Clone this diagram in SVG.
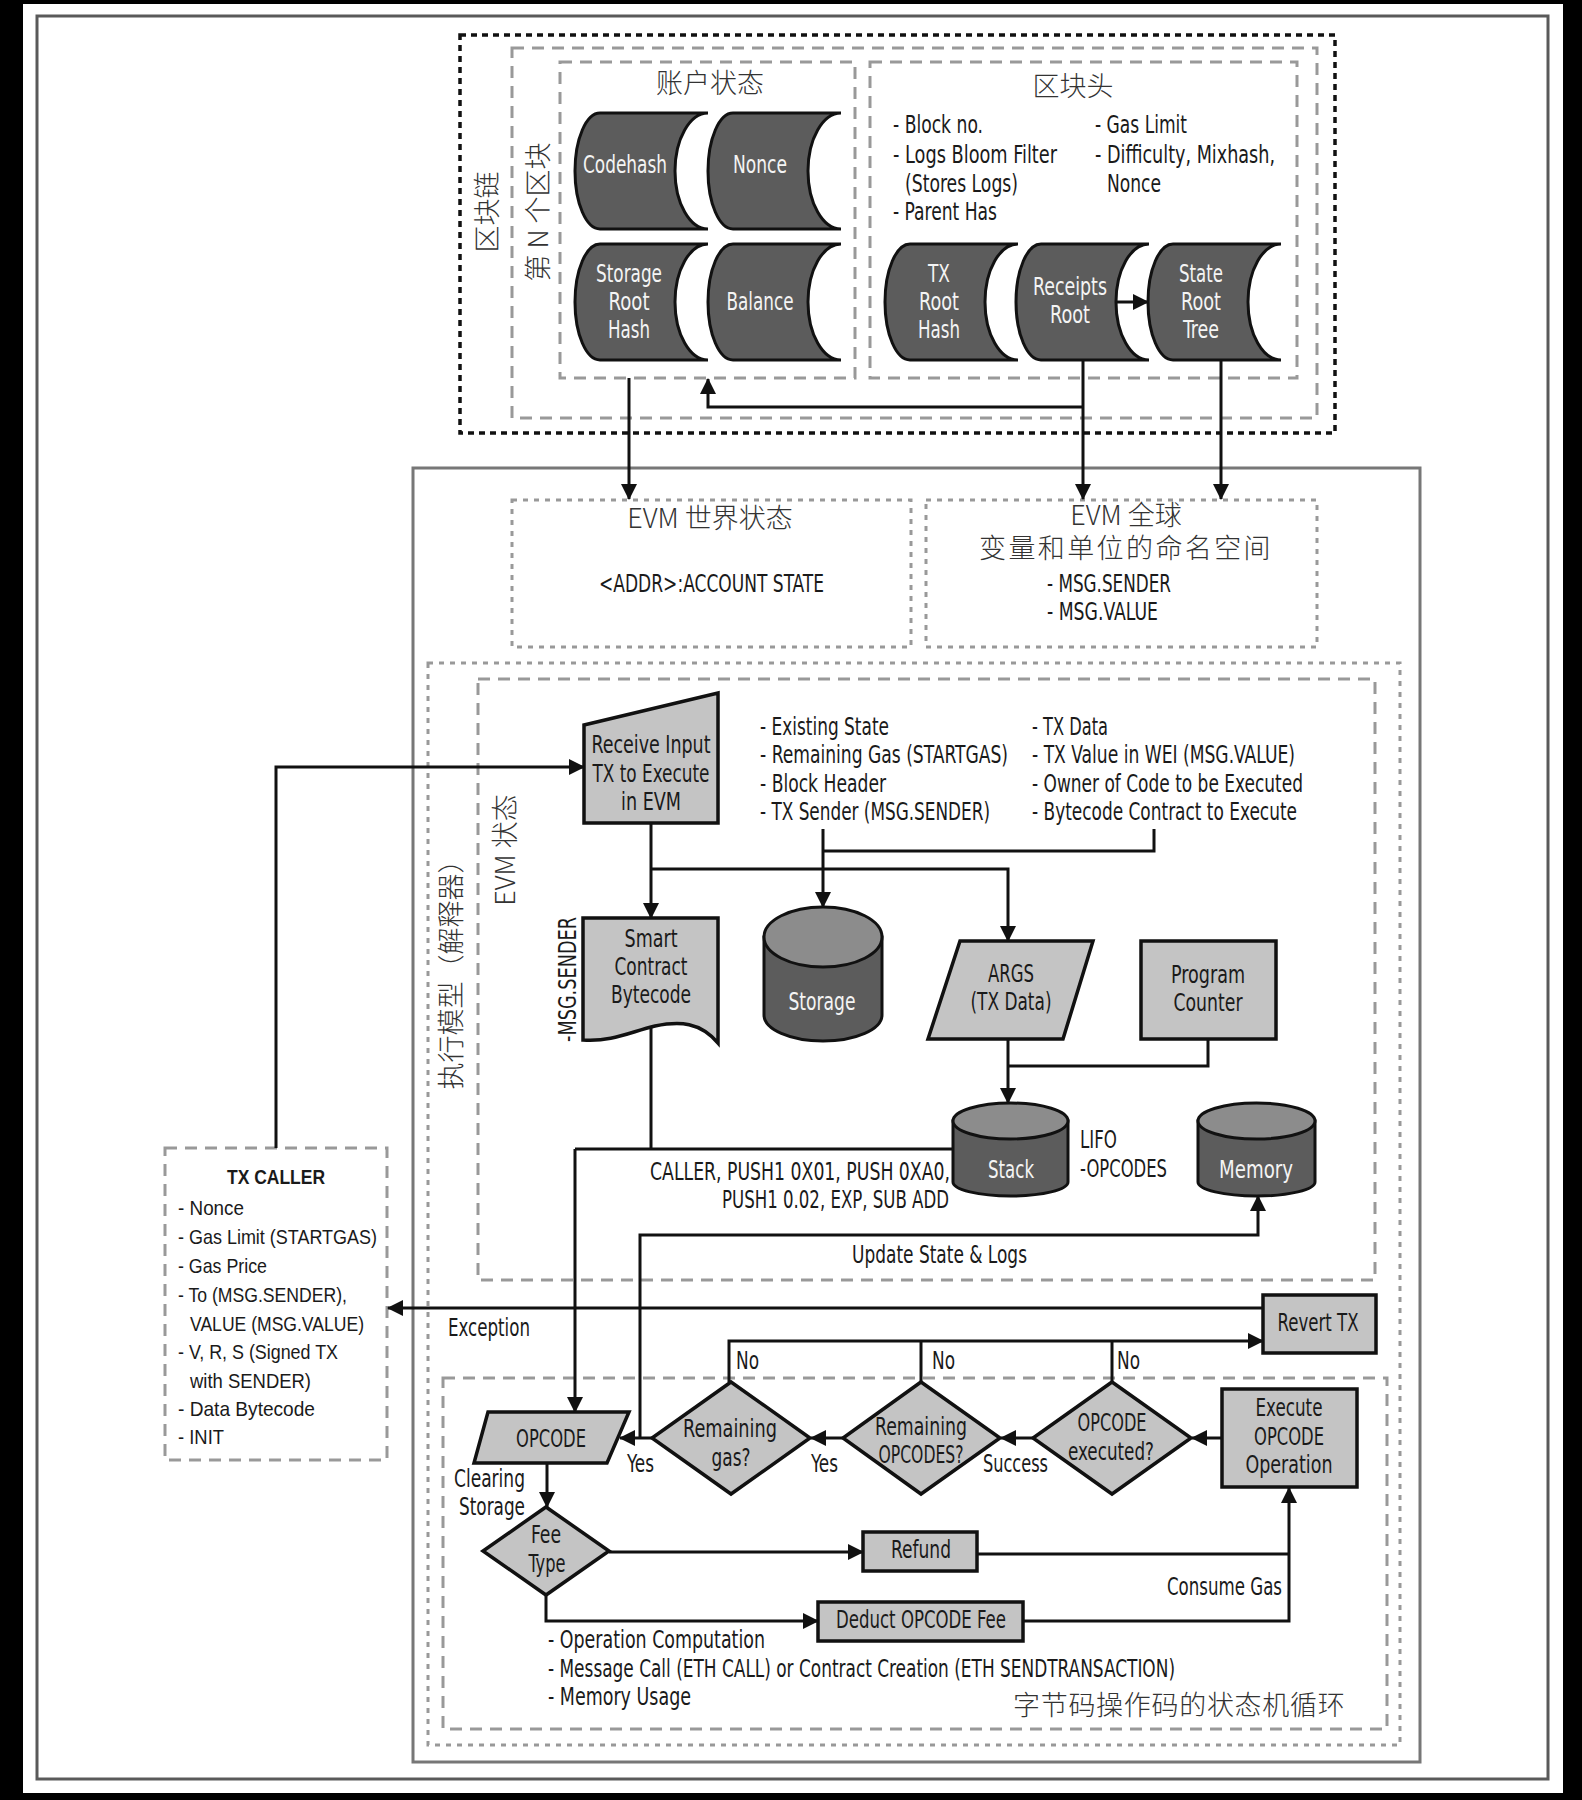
<svg xmlns="http://www.w3.org/2000/svg" width="1582" height="1800" viewBox="0 0 1582 1800">
<defs>
<style>
.t{font-family:'Liberation Sans Narrow','DejaVu Sans Condensed','Liberation Sans',sans-serif;font-size:24px;fill:#1a1a1a}
.w{fill:#f4f4f4}
.c{font-family:'Liberation Sans','Open Sans',sans-serif;font-size:21px;fill:#1a1a1a}
.cb{font-weight:bold}
.k{font-family:'Noto Sans CJK SC','Noto Sans CJK JP',sans-serif;font-size:27px;font-weight:300;fill:#333}
.dash{fill:none;stroke:#999;stroke-width:3;stroke-dasharray:12 8}
.dot{fill:none;stroke:#999;stroke-width:3;stroke-dasharray:5 6}
.ln{fill:none;stroke:#111;stroke-width:3}
.arr{marker-end:url(#ah)}
.lg{fill:#c4c4c4;stroke:#111;stroke-width:3.5}
.dk{fill:#5c5c5c;stroke:#111;stroke-width:3}
.top{fill:#8c8c8c;stroke:#111;stroke-width:3}
</style>
<marker id="ah" viewBox="0 0 16 16" refX="15" refY="8" markerWidth="16" markerHeight="16" markerUnits="userSpaceOnUse" orient="auto">
<path d="M0,0 L16,8 L0,16 Z" fill="#111"/>
</marker>
<path id="sd" d="M25,0 H133 A33,58 0 0 0 133,116 H25 A25,58 0 0 1 25,0 Z"/>
</defs>

<rect x="0" y="0" width="1582" height="1800" fill="#000"/>
<rect x="23" y="4" width="1540" height="1789" fill="#fff"/>
<rect x="37" y="16" width="1511" height="1763" fill="none" stroke="#5a5a5a" stroke-width="3"/>

<g id="containers">
<rect x="460" y="35" width="875" height="398" fill="none" stroke="#111" stroke-width="3.5" stroke-dasharray="6 5"/>
<rect x="512" y="48" width="805" height="370" class="dash"/>
<rect x="560" y="62" width="295" height="316" class="dash"/>
<rect x="870" y="62" width="427" height="316" class="dash"/>
<rect x="413" y="468" width="1007" height="1294" fill="none" stroke="#777" stroke-width="3"/>
<rect x="512" y="500" width="399" height="147" class="dot"/>
<rect x="926" y="500" width="391" height="147" class="dot"/>
<rect x="428" y="663" width="972" height="1082" class="dot"/>
<rect x="478" y="679" width="897" height="601" class="dash"/>
<rect x="443" y="1378" width="944" height="351" class="dash"/>
<rect x="165" y="1148" width="222" height="312" class="dash"/>
</g>

<g id="labels">
<text class="k" transform="translate(497,212) rotate(-90)" text-anchor="middle" font-size="26">区块链</text>
<text class="k" transform="translate(548,212) rotate(-90)" text-anchor="middle" font-size="26">第 N 个区块</text>
<text class="k" text-anchor="middle" x="710" y="93">账户状态</text>
<text class="k" text-anchor="middle" x="1073" y="96">区块头</text>
<text class="t" x="893" y="133" textLength="90" lengthAdjust="spacingAndGlyphs">- Block no.</text>
<text class="t" x="893" y="163" textLength="164" lengthAdjust="spacingAndGlyphs">- Logs Bloom Filter</text>
<text class="t" x="905" y="192" textLength="113" lengthAdjust="spacingAndGlyphs">(Stores Logs)</text>
<text class="t" x="893" y="220" textLength="104" lengthAdjust="spacingAndGlyphs">- Parent Has</text>
<text class="t" x="1095" y="133" textLength="92" lengthAdjust="spacingAndGlyphs">- Gas Limit</text>
<text class="t" x="1095" y="163" textLength="180" lengthAdjust="spacingAndGlyphs">- Difficulty, Mixhash,</text>
<text class="t" x="1107" y="192" textLength="54" lengthAdjust="spacingAndGlyphs">Nonce</text>

<text class="k" text-anchor="middle" x="710" y="528">EVM 世界状态</text>
<text class="t" x="599" y="592" textLength="225" lengthAdjust="spacingAndGlyphs">&lt;ADDR&gt;:ACCOUNT STATE</text>
<text class="k" text-anchor="middle" x="1126" y="525" font-size="26">EVM 全球</text>
<text class="k" text-anchor="middle" x="1126" y="558" font-size="26" letter-spacing="2.4">变量和单位的命名空间</text>
<text class="t" x="1047" y="592" textLength="124" lengthAdjust="spacingAndGlyphs">- MSG.SENDER</text>
<text class="t" x="1047" y="620" textLength="111" lengthAdjust="spacingAndGlyphs">- MSG.VALUE</text>

<text class="k" transform="translate(461,968) rotate(-90)" text-anchor="middle" font-size="26">执行模型（解释器）</text>
<text class="k" transform="translate(515,850) rotate(-90)" text-anchor="middle" font-size="26">EVM 状态</text>

<text class="t" x="760" y="735" textLength="129" lengthAdjust="spacingAndGlyphs">- Existing State</text>
<text class="t" x="760" y="763" textLength="248" lengthAdjust="spacingAndGlyphs">- Remaining Gas (STARTGAS)</text>
<text class="t" x="760" y="792" textLength="126" lengthAdjust="spacingAndGlyphs">- Block Header</text>
<text class="t" x="760" y="820" textLength="230" lengthAdjust="spacingAndGlyphs">- TX Sender (MSG.SENDER)</text>
<text class="t" x="1032" y="735" textLength="76" lengthAdjust="spacingAndGlyphs">- TX Data</text>
<text class="t" x="1032" y="763" textLength="263" lengthAdjust="spacingAndGlyphs">- TX Value in WEI (MSG.VALUE)</text>
<text class="t" x="1032" y="792" textLength="271" lengthAdjust="spacingAndGlyphs">- Owner of Code to be Executed</text>
<text class="t" x="1032" y="820" textLength="265" lengthAdjust="spacingAndGlyphs">- Bytecode Contract to Execute</text>

<text class="t" transform="translate(576,1042) rotate(-90)" textLength="125" lengthAdjust="spacingAndGlyphs">-MSG.SENDER</text>
<text class="t" x="1080" y="1148" textLength="37" lengthAdjust="spacingAndGlyphs">LIFO</text>
<text class="t" x="1080" y="1177" textLength="87" lengthAdjust="spacingAndGlyphs">-OPCODES</text>
<text class="t" x="650" y="1180" textLength="300" lengthAdjust="spacingAndGlyphs">CALLER, PUSH1 0X01, PUSH 0XA0,</text>
<text class="t" x="722" y="1208" textLength="227" lengthAdjust="spacingAndGlyphs">PUSH1 0.02, EXP, SUB ADD</text>
<text class="t" x="852" y="1263" textLength="175" lengthAdjust="spacingAndGlyphs">Update State &amp; Logs</text>
<text class="t" x="448" y="1336" textLength="82" lengthAdjust="spacingAndGlyphs">Exception</text>

<text class="t" x="736" y="1369" textLength="23" lengthAdjust="spacingAndGlyphs">No</text>
<text class="t" x="932" y="1369" textLength="23" lengthAdjust="spacingAndGlyphs">No</text>
<text class="t" x="1117" y="1369" textLength="23" lengthAdjust="spacingAndGlyphs">No</text>
<text class="t" x="627" y="1472" textLength="27" lengthAdjust="spacingAndGlyphs">Yes</text>
<text class="t" x="811" y="1472" textLength="27" lengthAdjust="spacingAndGlyphs">Yes</text>
<text class="t" x="983" y="1472" textLength="65" lengthAdjust="spacingAndGlyphs">Success</text>
<text class="t" x="454" y="1487" textLength="71" lengthAdjust="spacingAndGlyphs">Clearing</text>
<text class="t" x="459" y="1515" textLength="66" lengthAdjust="spacingAndGlyphs">Storage</text>
<text class="t" x="1167" y="1595" textLength="115" lengthAdjust="spacingAndGlyphs">Consume Gas</text>
<text class="t" x="548" y="1648" textLength="217" lengthAdjust="spacingAndGlyphs">- Operation Computation</text>
<text class="t" x="548" y="1677" textLength="627" lengthAdjust="spacingAndGlyphs">- Message Call (ETH CALL) or Contract Creation (ETH SENDTRANSACTION)</text>
<text class="t" x="548" y="1705" textLength="143" lengthAdjust="spacingAndGlyphs">- Memory Usage</text>
<text class="k" x="1013" y="1715" font-size="28" letter-spacing="0.7">字节码操作码的状态机循环</text>
</g>

<g id="connectors">
<path class="ln arr" d="M629,378 V499"/>
<path class="ln arr" d="M1083,360 V499"/>
<path class="ln arr" d="M1083,407 H708 V379"/>
<path class="ln arr" d="M1221,360 V499"/>
<path class="ln arr" d="M1117,302 H1148"/>
<path class="ln arr" d="M276,1148 V767 H584"/>
<path class="ln arr" d="M651,823 V918"/>
<path class="ln arr" d="M651,869 H1008 V941"/>
<path class="ln arr" d="M823,829 V907"/>
<path class="ln" d="M823,851 H1154 V829"/>
<path class="ln arr" d="M1008,1039 V1103"/>
<path class="ln" d="M1208,1039 V1066 H1008"/>
<path class="ln" d="M651,1027 V1149"/>
<path class="ln" d="M575,1149 H953"/>
<path class="ln arr" d="M575,1149 V1412"/>
<path class="ln arr" d="M640,1438 V1235 H1258 V1196"/>
<path class="ln arr" d="M1263,1308 H388"/>
<path class="ln arr" d="M729,1382 V1341 H1263"/>
<path class="ln" d="M921,1382 V1341"/>
<path class="ln" d="M1112,1382 V1341"/>
<path class="ln arr" d="M652,1438 H620"/>
<path class="ln arr" d="M843,1438 H811"/>
<path class="ln arr" d="M1033,1438 H1001"/>
<path class="ln arr" d="M1222,1438 H1192"/>
<path class="ln arr" d="M547,1463 V1507"/>
<path class="ln arr" d="M609,1552 H863"/>
<path class="ln arr" d="M546,1595 V1621 H818"/>
<path class="ln" d="M977,1554 H1289"/>
<path class="ln arr" d="M1023,1621 H1289 V1488"/>
</g>

<g id="n-codehash"><use href="#sd" x="575" y="113" class="dk"/><text class="t w" text-anchor="middle" x="625" y="173" textLength="84" lengthAdjust="spacingAndGlyphs">Codehash</text></g>
<g id="n-nonce"><use href="#sd" x="708" y="113" class="dk"/><text class="t w" text-anchor="middle" x="760" y="173" textLength="54" lengthAdjust="spacingAndGlyphs">Nonce</text></g>
<g id="n-storageroot"><use href="#sd" x="575" y="244" class="dk"/>
<text class="t w" text-anchor="middle" x="629" y="282" textLength="66" lengthAdjust="spacingAndGlyphs">Storage</text>
<text class="t w" text-anchor="middle" x="629" y="310" textLength="41" lengthAdjust="spacingAndGlyphs">Root</text>
<text class="t w" text-anchor="middle" x="629" y="338" textLength="42" lengthAdjust="spacingAndGlyphs">Hash</text></g>
<g id="n-balance"><use href="#sd" x="708" y="244" class="dk"/><text class="t w" text-anchor="middle" x="760" y="310" textLength="67" lengthAdjust="spacingAndGlyphs">Balance</text></g>
<g id="n-txroot"><use href="#sd" x="885" y="244" class="dk"/>
<text class="t w" text-anchor="middle" x="939" y="282" textLength="22" lengthAdjust="spacingAndGlyphs">TX</text>
<text class="t w" text-anchor="middle" x="939" y="310" textLength="40" lengthAdjust="spacingAndGlyphs">Root</text>
<text class="t w" text-anchor="middle" x="939" y="338" textLength="42" lengthAdjust="spacingAndGlyphs">Hash</text></g>
<g id="n-receipts"><use href="#sd" x="1016" y="244" class="dk"/>
<text class="t w" text-anchor="middle" x="1070" y="295" textLength="74" lengthAdjust="spacingAndGlyphs">Receipts</text>
<text class="t w" text-anchor="middle" x="1070" y="323" textLength="40" lengthAdjust="spacingAndGlyphs">Root</text></g>
<g id="n-stateroot"><use href="#sd" x="1148" y="244" class="dk"/>
<text class="t w" text-anchor="middle" x="1201" y="282" textLength="44" lengthAdjust="spacingAndGlyphs">State</text>
<text class="t w" text-anchor="middle" x="1201" y="310" textLength="40" lengthAdjust="spacingAndGlyphs">Root</text>
<text class="t w" text-anchor="middle" x="1201" y="338" textLength="36" lengthAdjust="spacingAndGlyphs">Tree</text></g>

<g id="n-receive"><polygon class="lg" points="584,725 718,693 718,823 584,823"/>
<text class="t" text-anchor="middle" x="651" y="753" textLength="119" lengthAdjust="spacingAndGlyphs">Receive Input</text>
<text class="t" text-anchor="middle" x="651" y="782" textLength="117" lengthAdjust="spacingAndGlyphs">TX to Execute</text>
<text class="t" text-anchor="middle" x="651" y="810" textLength="60" lengthAdjust="spacingAndGlyphs">in EVM</text></g>

<g id="n-smartcontract"><path class="lg" d="M583,918 H718 V1043 C700,1022 680,1021 655,1026 C630,1032 612,1042 583,1040 Z"/>
<text class="t" text-anchor="middle" x="651" y="947" textLength="53" lengthAdjust="spacingAndGlyphs">Smart</text>
<text class="t" text-anchor="middle" x="651" y="975" textLength="73" lengthAdjust="spacingAndGlyphs">Contract</text>
<text class="t" text-anchor="middle" x="651" y="1003" textLength="80" lengthAdjust="spacingAndGlyphs">Bytecode</text></g>

<g id="n-storage"><path class="dk" d="M764,937 V1015 A59,26 0 0 0 882,1015 V937 Z"/><ellipse class="top" cx="823" cy="937" rx="59" ry="30"/>
<text class="t w" text-anchor="middle" x="822" y="1010" textLength="67" lengthAdjust="spacingAndGlyphs">Storage</text></g>

<g id="n-args"><polygon class="lg" points="960,941 1093,941 1063,1039 928,1039"/>
<text class="t" text-anchor="middle" x="1011" y="982" textLength="46" lengthAdjust="spacingAndGlyphs">ARGS</text>
<text class="t" text-anchor="middle" x="1011" y="1010" textLength="81" lengthAdjust="spacingAndGlyphs">(TX Data)</text></g>

<g id="n-pc"><rect class="lg" x="1141" y="941" width="135" height="98"/>
<text class="t" text-anchor="middle" x="1208" y="983" textLength="74" lengthAdjust="spacingAndGlyphs">Program</text>
<text class="t" text-anchor="middle" x="1208" y="1011" textLength="69" lengthAdjust="spacingAndGlyphs">Counter</text></g>

<g id="n-stack"><path class="dk" d="M953,1121 V1182 A57.5,14 0 0 0 1068,1182 V1121 Z"/><ellipse class="top" cx="1010.5" cy="1121" rx="57.5" ry="18"/>
<text class="t w" text-anchor="middle" x="1011" y="1178" textLength="46" lengthAdjust="spacingAndGlyphs">Stack</text></g>

<g id="n-memory"><path class="dk" d="M1198,1121 V1182 A58.5,14 0 0 0 1315,1182 V1121 Z"/><ellipse class="top" cx="1256.5" cy="1121" rx="58.5" ry="18"/>
<text class="t w" text-anchor="middle" x="1256" y="1178" textLength="74" lengthAdjust="spacingAndGlyphs">Memory</text></g>

<g id="n-txcaller">
<text class="c cb" text-anchor="middle" x="276" y="1184" textLength="98" lengthAdjust="spacingAndGlyphs">TX CALLER</text>
<text class="c" x="178" y="1215" textLength="66" lengthAdjust="spacingAndGlyphs">- Nonce</text>
<text class="c" x="178" y="1244" textLength="199" lengthAdjust="spacingAndGlyphs">- Gas Limit (STARTGAS)</text>
<text class="c" x="178" y="1273" textLength="89" lengthAdjust="spacingAndGlyphs">- Gas Price</text>
<text class="c" x="178" y="1302" textLength="169" lengthAdjust="spacingAndGlyphs">- To (MSG.SENDER),</text>
<text class="c" x="190" y="1331" textLength="174" lengthAdjust="spacingAndGlyphs">VALUE (MSG.VALUE)</text>
<text class="c" x="178" y="1359" textLength="160" lengthAdjust="spacingAndGlyphs">- V, R, S (Signed TX</text>
<text class="c" x="190" y="1388" textLength="121" lengthAdjust="spacingAndGlyphs">with SENDER)</text>
<text class="c" x="178" y="1416" textLength="137" lengthAdjust="spacingAndGlyphs">- Data Bytecode</text>
<text class="c" x="178" y="1444" textLength="46" lengthAdjust="spacingAndGlyphs">- INIT</text>
</g>

<g id="n-revert"><rect class="lg" x="1263" y="1295" width="113" height="58"/>
<text class="t" text-anchor="middle" x="1318" y="1331" textLength="81" lengthAdjust="spacingAndGlyphs">Revert TX</text></g>

<g id="n-opcode"><polygon class="lg" points="488,1412 629,1412 607,1463 474,1463"/>
<text class="t" text-anchor="middle" x="551" y="1447" textLength="70" lengthAdjust="spacingAndGlyphs">OPCODE</text></g>

<g id="n-remgas"><polygon class="lg" points="731,1382 810,1438 731,1494 652,1438"/>
<text class="t" text-anchor="middle" x="730" y="1437" textLength="94" lengthAdjust="spacingAndGlyphs">Remaining</text>
<text class="t" text-anchor="middle" x="731" y="1466" textLength="39" lengthAdjust="spacingAndGlyphs">gas?</text></g>

<g id="n-remops"><polygon class="lg" points="921,1382 1000,1438 921,1494 843,1438"/>
<text class="t" text-anchor="middle" x="921" y="1435" textLength="92" lengthAdjust="spacingAndGlyphs">Remaining</text>
<text class="t" text-anchor="middle" x="921" y="1463" textLength="85" lengthAdjust="spacingAndGlyphs">OPCODES?</text></g>

<g id="n-executed"><polygon class="lg" points="1112,1382 1191,1438 1112,1494 1033,1438"/>
<text class="t" text-anchor="middle" x="1112" y="1431" textLength="69" lengthAdjust="spacingAndGlyphs">OPCODE</text>
<text class="t" text-anchor="middle" x="1111" y="1460" textLength="86" lengthAdjust="spacingAndGlyphs">executed?</text></g>

<g id="n-execute"><rect class="lg" x="1222" y="1389" width="135" height="98"/>
<text class="t" text-anchor="middle" x="1289" y="1416" textLength="67" lengthAdjust="spacingAndGlyphs">Execute</text>
<text class="t" text-anchor="middle" x="1289" y="1445" textLength="70" lengthAdjust="spacingAndGlyphs">OPCODE</text>
<text class="t" text-anchor="middle" x="1289" y="1473" textLength="87" lengthAdjust="spacingAndGlyphs">Operation</text></g>

<g id="n-feetype"><polygon class="lg" points="546,1507 609,1551 546,1595 483,1551"/>
<text class="t" text-anchor="middle" x="546" y="1543" textLength="30" lengthAdjust="spacingAndGlyphs">Fee</text>
<text class="t" text-anchor="middle" x="547" y="1572" textLength="37" lengthAdjust="spacingAndGlyphs">Type</text></g>

<g id="n-refund"><rect class="lg" x="863" y="1532" width="114" height="39"/>
<text class="t" text-anchor="middle" x="921" y="1558" textLength="60" lengthAdjust="spacingAndGlyphs">Refund</text></g>

<g id="n-deduct"><rect class="lg" x="818" y="1602" width="205" height="39"/>
<text class="t" text-anchor="middle" x="921" y="1628" textLength="170" lengthAdjust="spacingAndGlyphs">Deduct OPCODE Fee</text></g>
</svg>
